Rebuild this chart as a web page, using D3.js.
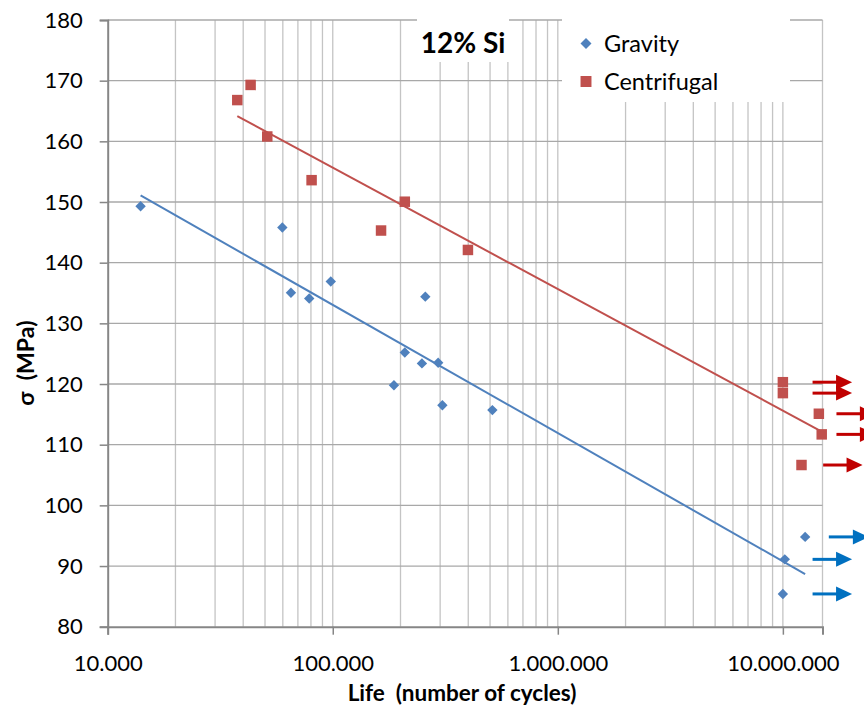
<!DOCTYPE html>
<html>
<head>
<meta charset="utf-8">
<script src="https://cdn.jsdelivr.net/npm/d3@7"></script>
<style>
  body { margin: 0; background: #fff; }
  svg { display: block; font-family: Lato, "Open Sans", sans-serif; }
  .pre { white-space: pre; }
</style>
</head>
<body>
<div id="chart"></div>
<script>

// Gravity cast, 12% Si
var gravityLife = [14000, 59700, 65200, 78600, 98000, 257800, 209000, 249000, 294000, 187000, 307000, 512000, 12560000, 10200000, 10000000];
var gravityStress = [149.3, 145.8, 135.05, 134.1, 136.9, 134.4, 125.2, 123.4, 123.5, 119.8, 116.5, 115.7, 94.8, 91.1, 85.4];

// Centrifugal cast, 12% Si
var centrifugalLife = [37650, 43150, 51170, 80530, 209000, 163900, 398700, 10000000, 10000000, 14450000, 14880000, 12100000];
var centrifugalStress = [166.8, 169.3, 160.8, 153.6, 150.05, 145.3, 142.1, 120.3, 118.5, 115.1, 111.7, 106.65];

// run-out arrows: which point, and the life span the arrow covers
var gravityArrowPoint = [12, 13, 14];
var gravityArrowFrom = [16000000, 13550000, 13550000];
var gravityArrowTo = [24100000, 20300000, 20300000];

var centrifugalArrowPoint = [7, 8, 9, 10, 11];
var centrifugalArrowFrom = [13550000, 13550000, 17300000, 17300000, 15100000];
var centrifugalArrowTo = [20300000, 20300000, 25900000, 25900000, 22600000];

var yTicks = [80, 90, 100, 110, 120, 130, 140, 150, 160, 170, 180];
var xTicks = [10000, 100000, 1000000, 10000000];

var legendNames = ["Gravity", "Centrifugal"];
var chartTitle = "12% Si";


var width = 864, height = 708;

var svg = d3.select("#chart").append("svg")
            .attr("width", width)
            .attr("height", height);

var x = d3.scaleLog().domain([10000, 15000000]).range([107.7, 822.5]);
var y = d3.scaleLinear().domain([80, 180]).range([626.7, 20]);

var locale = d3.formatLocale({ decimal: ",", thousands: ".", grouping: [3], currency: ["", ""] });
var fmt = locale.format(",d");

var blue = "#4F81BD", red = "#C0504D";

// vertical grid (log minor + major)
svg.append("g")
   .selectAll("line")
   .data(x.ticks().filter(function(d){ return d > 10000; }))
   .enter().append("line")
   .attr("x1", function(d){ return x(d); })
   .attr("x2", function(d){ return x(d); })
   .attr("y1", y(180))
   .attr("y2", y(80))
   .attr("stroke", "#C4C4C4")
   .attr("stroke-width", 1.3);

// right edge of the plot area
svg.append("line")
   .attr("x1", x.range()[1]).attr("x2", x.range()[1])
   .attr("y1", y(180)).attr("y2", y(80))
   .attr("stroke", "#C4C4C4")
   .attr("stroke-width", 1.3);

// horizontal grid
svg.append("g")
   .selectAll("line")
   .data(yTicks.filter(function(d){ return d > 80; }))
   .enter().append("line")
   .attr("x1", x.range()[0])
   .attr("x2", x.range()[1])
   .attr("y1", function(d){ return y(d); })
   .attr("y2", function(d){ return y(d); })
   .attr("stroke", "#A8A8A8")
   .attr("stroke-width", 1.3);

// axes
var yAxis = svg.append("g")
   .attr("transform", "translate(" + x.range()[0] + ",0)")
   .call(d3.axisLeft(y).tickValues(yTicks).tickSize(8).tickPadding(17));

var xAxis = svg.append("g")
   .attr("transform", "translate(0," + y.range()[0] + ")")
   .call(d3.axisBottom(x).tickValues(xTicks).tickFormat(fmt).tickSize(8).tickPadding(24));

[yAxis, xAxis].forEach(function(a){
  a.select(".domain").attr("stroke", "#868686").attr("stroke-width", 2);
  a.selectAll(".tick line").attr("stroke", "#868686").attr("stroke-width", 1.5);
  a.selectAll("text").attr("font-size", 22).attr("fill", "#000").attr("font-family", "Lato, sans-serif");
});
xAxis.selectAll("text").attr("dy", "0.55em");


// log trend line (least squares on log10 of life)
var trend = function( life, stress ){
  var lx = life.map(function(d){ return Math.log10(d); });
  var mx = d3.mean(lx), my = d3.mean(stress);
  var sxy = d3.sum(lx, function(d, i){ return (d - mx) * (stress[i] - my); });
  var sxx = d3.sum(lx, function(d){ return (d - mx) * (d - mx); });
  var slope = sxy / sxx;
  var ends = d3.extent(life);
  return ends.map(function(v){ return [v, my + slope * (Math.log10(v) - mx)]; });
};

var line = d3.line()
   .x(function(d){ return x(d[0]); })
   .y(function(d){ return y(d[1]); });

svg.append("path")
   .attr("d", line(trend(gravityLife, gravityStress)))
   .attr("stroke", blue).attr("stroke-width", 2).attr("fill", "none");

svg.append("path")
   .attr("d", line(trend(centrifugalLife, centrifugalStress)))
   .attr("stroke", red).attr("stroke-width", 2).attr("fill", "none");


// markers
var diamond = d3.symbol().type(d3.symbolSquare).size(54);
var square = d3.symbol().type(d3.symbolSquare).size(110);

svg.append("g")
   .selectAll("path")
   .data(gravityLife)
   .enter().append("path")
   .attr("d", diamond)
   .attr("transform", function(d, i){ return "translate(" + x(d) + "," + y(gravityStress[i]) + ") rotate(45)"; })
   .attr("fill", blue);

svg.append("g")
   .selectAll("path")
   .data(centrifugalLife)
   .enter().append("path")
   .attr("d", square)
   .attr("transform", function(d, i){ return "translate(" + x(d) + "," + y(centrifugalStress[i]) + ")"; })
   .attr("fill", red);


// run-out arrows
var drawArrows = function( points, from, to, stress, color ){
  var g = svg.append("g");
  points.forEach(function(p, i){
    var yy = y(stress[p]);
    var x0 = x(from[i]), x1 = x(to[i]);
    g.append("line")
     .attr("x1", x0).attr("x2", x1 - 14)
     .attr("y1", yy).attr("y2", yy)
     .attr("stroke", color).attr("stroke-width", 3);
    g.append("path")
     .attr("d", "M" + (x1 - 16) + "," + (yy - 7.5) + "L" + x1 + "," + yy + "L" + (x1 - 16) + "," + (yy + 7.5) + "Z")
     .attr("fill", color);
  });
};

drawArrows(gravityArrowPoint, gravityArrowFrom, gravityArrowTo, gravityStress, "#0070C0");
drawArrows(centrifugalArrowPoint, centrifugalArrowFrom, centrifugalArrowTo, centrifugalStress, "#C00000");


// title box
svg.append("rect")
   .attr("x", 417).attr("y", 18).attr("width", 92).attr("height", 44)
   .attr("fill", "#fff");

svg.append("text")
   .attr("x", 463).attr("y", 52.5)
   .attr("text-anchor", "middle")
   .attr("font-size", 28)
   .attr("font-weight", "bold")
   .text(chartTitle);

// legend
var legend = svg.append("g");

legend.append("rect")
   .attr("x", 562).attr("y", 18).attr("width", 228).attr("height", 84)
   .attr("fill", "#fff");

legend.append("path")
   .attr("d", d3.symbol().type(d3.symbolSquare).size(60))
   .attr("transform", "translate(586,43.5) rotate(45)")
   .attr("fill", blue);

legend.append("path")
   .attr("d", d3.symbol().type(d3.symbolSquare).size(120))
   .attr("transform", "translate(586,81.5)")
   .attr("fill", red);

legend.selectAll("text")
   .data(legendNames)
   .enter().append("text")
   .attr("x", 604)
   .attr("y", function(d, i){ return 44 + i * 38; })
   .attr("dy", "0.35em")
   .attr("font-size", 23.5)
   .text(function(d){ return d; });


// axis titles
svg.append("text")
   .attr("class", "pre")
   .attr("x", 462).attr("y", 701)
   .attr("text-anchor", "middle")
   .attr("font-size", 22.5)
   .attr("font-weight", "bold")
   .text("Life  (number of cycles)");

svg.append("text")
   .attr("class", "pre")
   .attr("transform", "translate(34,363) rotate(-90)")
   .attr("text-anchor", "middle")
   .attr("font-size", 23)
   .attr("font-weight", "bold")
   .text("σ  (MPa)");

</script>
</body>
</html>
